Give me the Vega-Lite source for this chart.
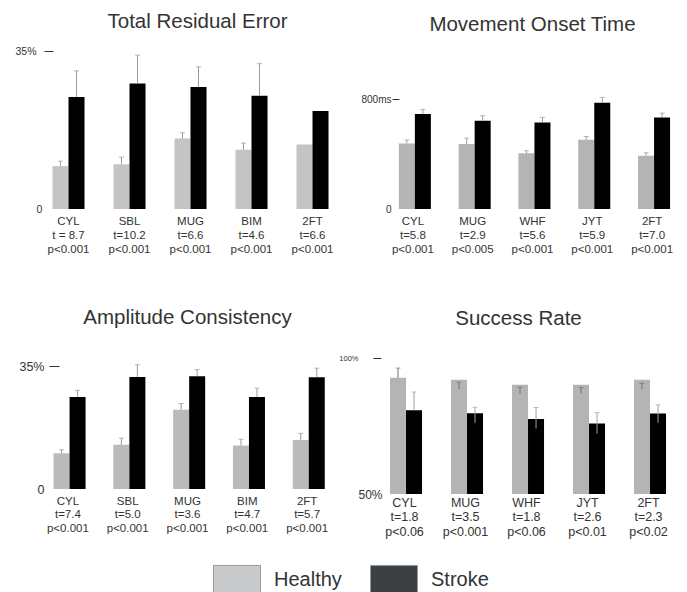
{
  "$schema": "https://vega.github.io/schema/vega-lite/v6.json",
  "padding": {"left": 14, "top": 11, "right": 5, "bottom": 0},
  "background": "white",
  "datasets": {
    "p1": [
      {"cat": "CYL|t = 8.7|p<0.001", "group": "Healthy", "value": 9.5, "lo": 9.5, "hi": 10.6},
      {"cat": "CYL|t = 8.7|p<0.001", "group": "Stroke", "value": 24.8, "lo": 24.8, "hi": 30.6},
      {"cat": "SBL|t=10.2|p<0.001", "group": "Healthy", "value": 9.9, "lo": 9.9, "hi": 11.5},
      {"cat": "SBL|t=10.2|p<0.001", "group": "Stroke", "value": 27.8, "lo": 27.8, "hi": 34.1},
      {"cat": "MUG|t=6.6|p<0.001", "group": "Healthy", "value": 15.6, "lo": 15.6, "hi": 16.9},
      {"cat": "MUG|t=6.6|p<0.001", "group": "Stroke", "value": 27.0, "lo": 27.0, "hi": 31.5},
      {"cat": "BIM|t=4.6|p<0.001", "group": "Healthy", "value": 13.1, "lo": 13.1, "hi": 14.6},
      {"cat": "BIM|t=4.6|p<0.001", "group": "Stroke", "value": 25.1, "lo": 25.1, "hi": 32.2},
      {"cat": "2FT|t=6.6|p<0.001", "group": "Healthy", "value": 14.3, "lo": null, "hi": null},
      {"cat": "2FT|t=6.6|p<0.001", "group": "Stroke", "value": 21.7, "lo": null, "hi": null}
    ],
    "p2": [
      {"cat": "CYL|t=5.8|p<0.001", "group": "Healthy", "value": 477, "lo": 477, "hi": 502},
      {"cat": "CYL|t=5.8|p<0.001", "group": "Stroke", "value": 691, "lo": 691, "hi": 725},
      {"cat": "MUG|t=2.9|p<0.005", "group": "Healthy", "value": 473, "lo": 473, "hi": 516},
      {"cat": "MUG|t=2.9|p<0.005", "group": "Stroke", "value": 642, "lo": 642, "hi": 679},
      {"cat": "WHF|t=5.6|p<0.001", "group": "Healthy", "value": 405, "lo": 405, "hi": 424},
      {"cat": "WHF|t=5.6|p<0.001", "group": "Stroke", "value": 630, "lo": 630, "hi": 667},
      {"cat": "JYT|t=5.9|p<0.001", "group": "Healthy", "value": 504, "lo": 504, "hi": 528},
      {"cat": "JYT|t=5.9|p<0.001", "group": "Stroke", "value": 773, "lo": 773, "hi": 812},
      {"cat": "2FT|t=7.0|p<0.001", "group": "Healthy", "value": 388, "lo": 388, "hi": 409},
      {"cat": "2FT|t=7.0|p<0.001", "group": "Stroke", "value": 666, "lo": 666, "hi": 698}
    ],
    "p3": [
      {"cat": "CYL|t=7.4|p<0.001", "group": "Healthy", "value": 10.2, "lo": 10.2, "hi": 11.2},
      {"cat": "CYL|t=7.4|p<0.001", "group": "Stroke", "value": 26.3, "lo": 26.3, "hi": 28.2},
      {"cat": "SBL|t=5.0|p<0.001", "group": "Healthy", "value": 12.6, "lo": 12.6, "hi": 14.5},
      {"cat": "SBL|t=5.0|p<0.001", "group": "Stroke", "value": 32.0, "lo": 32.0, "hi": 35.5},
      {"cat": "MUG|t=3.6|p<0.001", "group": "Healthy", "value": 22.6, "lo": 22.6, "hi": 24.4},
      {"cat": "MUG|t=3.6|p<0.001", "group": "Stroke", "value": 32.2, "lo": 32.2, "hi": 34.1},
      {"cat": "BIM|t=4.7|p<0.001", "group": "Healthy", "value": 12.4, "lo": 12.4, "hi": 14.2},
      {"cat": "BIM|t=4.7|p<0.001", "group": "Stroke", "value": 26.3, "lo": 26.3, "hi": 28.8},
      {"cat": "2FT|t=5.7|p<0.001", "group": "Healthy", "value": 14.0, "lo": 14.0, "hi": 15.9},
      {"cat": "2FT|t=5.7|p<0.001", "group": "Stroke", "value": 31.9, "lo": 31.9, "hi": 34.5}
    ],
    "p4": [
      {"cat": "CYL|t=1.8|p<0.06", "group": "Healthy", "value": 92.7, "lo": 92.7, "hi": 96.3},
      {"cat": "CYL|t=1.8|p<0.06", "group": "Stroke", "value": 80.8, "lo": 80.8, "hi": 87.5},
      {"cat": "MUG|t=3.5|p<0.001", "group": "Healthy", "value": 92.0, "lo": 88.6, "hi": 91.1},
      {"cat": "MUG|t=3.5|p<0.001", "group": "Stroke", "value": 79.7, "lo": 76.2, "hi": 81.9},
      {"cat": "WHF|t=1.8|p<0.06", "group": "Healthy", "value": 90.2, "lo": 86.8, "hi": 89.2},
      {"cat": "WHF|t=1.8|p<0.06", "group": "Stroke", "value": 77.6, "lo": 74.1, "hi": 81.8},
      {"cat": "JYT|t=2.6|p<0.01", "group": "Healthy", "value": 90.2, "lo": 87.0, "hi": 89.2},
      {"cat": "JYT|t=2.6|p<0.01", "group": "Stroke", "value": 75.9, "lo": 72.2, "hi": 79.9},
      {"cat": "2FT|t=2.3|p<0.02", "group": "Healthy", "value": 92.0, "lo": 88.6, "hi": 90.7},
      {"cat": "2FT|t=2.3|p<0.02", "group": "Stroke", "value": 79.6, "lo": 76.2, "hi": 82.8}
    ]
  },
  "vconcat": [
    {
      "bounds": "flush",
      "spacing": 40,
      "hconcat": [
        {
          "width": 305, "height": 158,
          "data": {"name": "p1"},
          "title": {"text": "Total Residual Error", "offset": 14, "dx": 7},
          "encoding": {
            "x": {"field": "cat", "type": "nominal", "sort": null, "title": null,
                  "scale": {"paddingInner": 0.475, "paddingOuter": 0.2375},
                  "axis": {"labelExpr": "split(datum.label, '|')"}},
            "xOffset": {"field": "group", "type": "nominal", "sort": ["Healthy", "Stroke"], "scale": {"paddingInner": 0, "paddingOuter": 0}}
          },
          "layer": [
            {"transform": [{"filter": "false"}],
             "mark": {"type": "bar"},
             "encoding": {
               "y": {"field": "value", "type": "quantitative", "title": null},
               "color": {"field": "group", "type": "nominal", "title": null,
                         "scale": {"domain": ["Healthy", "Stroke"], "range": ["#c8cacc", "#3d4043"]},
                         "legend": {"orient": "none", "legendX": 175, "legendY": 505, "direction": "horizontal"}}}},
            {"mark": {"type": "bar"},
             "encoding": {
               "y": {"field": "value", "type": "quantitative", "title": null, "scale": {"domain": [0, 35], "nice": false},
                     "axis": {"values": [0, 35], "labelExpr": "datum.value == 0 ? '0' : '35%'", "offset": -15, "tickSize": 9, "labelPadding": 8, "labelFontSize": 10.5,
                              "labelAlign": {"condition": {"test": "datum.value == 0", "value": "left"}, "value": "right"},
                              "tickOpacity": {"condition": {"test": "datum.value == 0", "value": 0}, "value": 1}}},
               "color": {"condition": {"test": "datum.group == 'Healthy'", "value": "#c4c4c4"}, "value": "#000000"}}},
            {"mark": {"type": "rule", "color": "#9a9a9a", "strokeWidth": 1},
             "encoding": {"y": {"field": "lo", "type": "quantitative"}, "y2": {"field": "hi"}}},
            {"mark": {"type": "tick", "orient": "horizontal", "color": "#9a9a9a", "size": 5, "thickness": 1},
             "encoding": {"y": {"field": "hi", "type": "quantitative"}}}
          ]
        },
        {
          "width": 299, "height": 158,
          "data": {"name": "p2"},
          "title": {"text": "Movement Onset Time", "offset": 16},
          "encoding": {
            "x": {"field": "cat", "type": "nominal", "sort": null, "title": null,
                  "scale": {"paddingInner": 0.53, "paddingOuter": 0.265},
                  "axis": {"labelExpr": "split(datum.label, '|')"}},
            "xOffset": {"field": "group", "type": "nominal", "sort": ["Healthy", "Stroke"], "scale": {"paddingInner": 0, "paddingOuter": 0}}
          },
          "layer": [
            {"mark": {"type": "bar"},
             "encoding": {
               "y": {"field": "value", "type": "quantitative", "title": null, "scale": {"domain": [0, 1150], "nice": false},
                     "axis": {"values": [0, 800], "labelExpr": "datum.value == 0 ? '0' : '800ms'", "offset": -16, "tickSize": 7, "labelPadding": 1, "labelFontSize": 10,
                              "tickOpacity": {"condition": {"test": "datum.value == 0", "value": 0}, "value": 1}}},
               "color": {"condition": {"test": "datum.group == 'Healthy'", "value": "#b4b4b4"}, "value": "#000000"}}},
            {"mark": {"type": "rule", "color": "#9a9a9a", "strokeWidth": 1},
             "encoding": {"y": {"field": "lo", "type": "quantitative"}, "y2": {"field": "hi"}}},
            {"mark": {"type": "tick", "orient": "horizontal", "color": "#9a9a9a", "size": 5, "thickness": 1},
             "encoding": {"y": {"field": "hi", "type": "quantitative"}}}
          ]
        }
      ]
    },
    {
      "bounds": "flush",
      "spacing": 37,
      "hconcat": [
        {
          "width": 299, "height": 131,
          "data": {"name": "p3"},
          "title": {"text": "Amplitude Consistency", "offset": 30},
          "encoding": {
            "x": {"field": "cat", "type": "nominal", "sort": null, "title": null,
                  "scale": {"paddingInner": 0.52, "paddingOuter": 0.26},
                  "axis": {"labelExpr": "split(datum.label, '|')", "labelLineHeight": 13.5}},
            "xOffset": {"field": "group", "type": "nominal", "sort": ["Healthy", "Stroke"], "scale": {"paddingInner": 0, "paddingOuter": 0}}
          },
          "layer": [
            {"mark": {"type": "bar"},
             "encoding": {
               "y": {"field": "value", "type": "quantitative", "title": null, "scale": {"domain": [0, 37.4], "nice": false},
                     "axis": {"values": [0, 35], "labelExpr": "datum.value == 0 ? '0' : '35%'", "offset": -21, "tickSize": 10, "labelPadding": 5, "labelFontSize": 12.5,
                              "tickOpacity": {"condition": {"test": "datum.value == 0", "value": 0}, "value": 1}}},
               "color": {"condition": {"test": "datum.group == 'Healthy'", "value": "#bababa"}, "value": "#000000"}}},
            {"mark": {"type": "rule", "color": "#9a9a9a", "strokeWidth": 1},
             "encoding": {"y": {"field": "lo", "type": "quantitative"}, "y2": {"field": "hi"}}},
            {"mark": {"type": "tick", "orient": "horizontal", "color": "#9a9a9a", "size": 5, "thickness": 1},
             "encoding": {"y": {"field": "hi", "type": "quantitative"}}}
          ]
        },
        {
          "width": 305, "height": 136,
          "data": {"name": "p4"},
          "title": {"text": "Success Rate", "offset": 25, "dx": -8},
          "encoding": {
            "x": {"field": "cat", "type": "nominal", "sort": null, "title": null,
                  "scale": {"paddingInner": 0.525, "paddingOuter": 0.2625},
                  "axis": {"labelExpr": "split(datum.label, '|')", "labelFontSize": 12.5, "labelLineHeight": 14.5, "labelPadding": 2}},
            "xOffset": {"field": "group", "type": "nominal", "sort": ["Healthy", "Stroke"], "scale": {"paddingInner": 0, "paddingOuter": 0}}
          },
          "layer": [
            {"mark": {"type": "bar"},
             "encoding": {
               "y": {"field": "value", "type": "quantitative", "title": null, "scale": {"domain": [50, 100], "nice": false},
                     "axis": {"values": [50, 100], "labelExpr": "datum.value == 50 ? '50%' : '100%'", "offset": -7, "tickSize": 8, "labelPadding": 15,
                              "labelFontSize": {"condition": {"test": "datum.value == 50", "value": 12}, "value": 7.5},
                              "labelAlign": {"condition": {"test": "datum.value == 50", "value": "left"}, "value": "right"},
                              "tickOpacity": {"condition": {"test": "datum.value == 50", "value": 0}, "value": 1}}},
               "y2": {"datum": 50},
               "color": {"condition": {"test": "datum.group == 'Healthy'", "value": "#b4b4b4"}, "value": "#000000"}}},
            {"mark": {"type": "rule", "strokeWidth": 1},
             "encoding": {"y": {"field": "lo", "type": "quantitative"}, "y2": {"field": "hi"},
                          "color": {"condition": {"test": "datum.group == 'Healthy'", "value": "#707070"}, "value": "#a0a0a0"}}},
            {"mark": {"type": "tick", "orient": "horizontal", "size": 5, "thickness": 1},
             "encoding": {"y": {"field": "hi", "type": "quantitative"},
                          "color": {"condition": {"test": "datum.group == 'Healthy'", "value": "#707070"}, "value": "#a0a0a0"}}}
          ]
        }
      ]
    }
  ],
  "spacing": 52,
  "config": {
    "font": "Liberation Sans",
    "view": {"stroke": null},
    "title": {"fontSize": 20.5, "fontWeight": "normal", "color": "#333333", "anchor": "middle"},
    "axis": {"grid": false, "domain": false, "labelColor": "#333333", "tickColor": "#333333"},
    "axisX": {"ticks": false, "labelAngle": 0, "labelFontSize": 11.5, "labelLineHeight": 14, "labelPadding": 6, "labelBaseline": "top"},
    "axisY": {"tickWidth": 1},
    "legend": {"labelFontSize": 20, "labelColor": "#333333", "padding": 0,
               "symbolType": "M-1,-0.64H1V0.64H-1Z", "symbolSize": 2209, "symbolStrokeWidth": 1, "symbolStrokeColor": "#999999",
               "labelOffset": 13, "columnPadding": 26}
  }
}
